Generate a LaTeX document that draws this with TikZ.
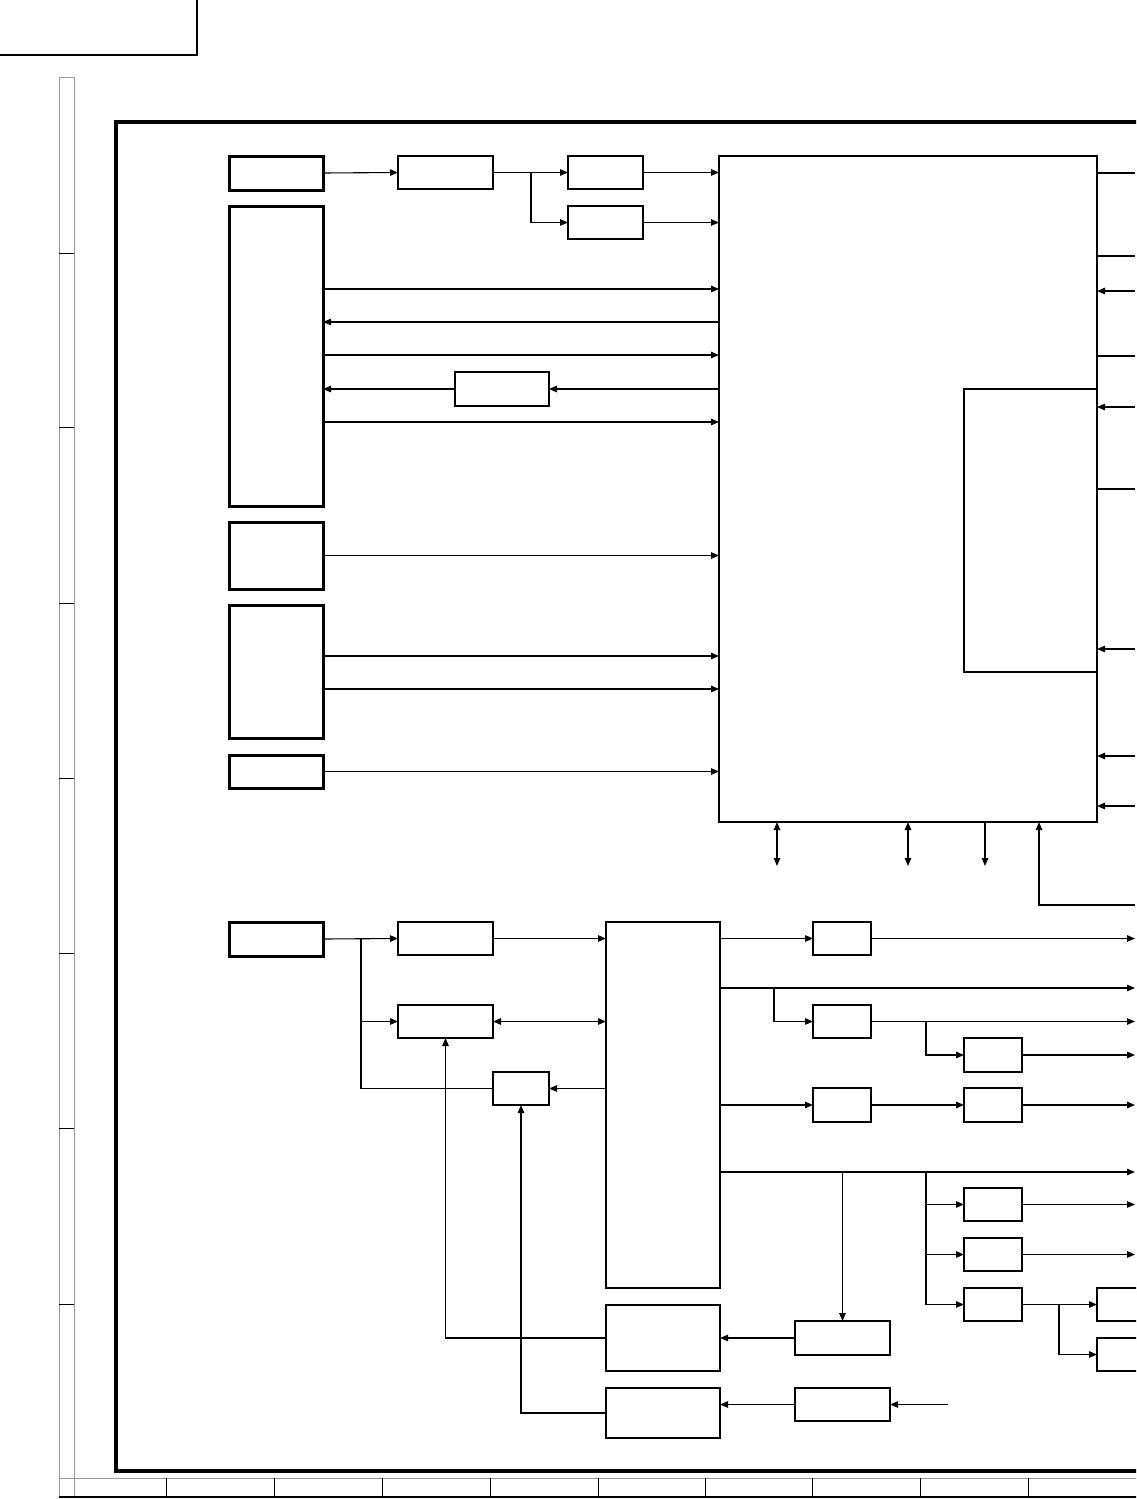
\documentclass[tikz,border=0pt]{standalone}
\usetikzlibrary{arrows.meta,calc,positioning}

\tikzset{
  blk/.style={draw,line width=1.1pt,inner sep=0pt,outer sep=0pt,anchor=north west},
  srcblk/.style={blk,line width=3pt},
  arr/.style={line width=1.1pt,-{Triangle[length=8pt,width=6.5pt]}},
  biarr/.style={line width=1.1pt,{Triangle[length=8pt,width=6.5pt]}-{Triangle[length=8pt,width=6.5pt]}},
  wire/.style={line width=1.1pt},
  strip/.style={draw=gray!80,line width=0.9pt}
}

\begin{document}
\begin{tikzpicture}[x=1pt,y=-1pt,>=Stealth]
  \useasboundingbox (0,0) rectangle (1136,1499);
  \clip (0,0) rectangle (1136,1499);

  % Rahmen, Randleisten
  \draw[line width=2.2pt] (-5,55) -- (197,55) -- (197,-5);
  \draw[strip] (59,77) rectangle (74,1497);
  \foreach \y in {253,427,603,778,953,1128,1304}
    \draw[line width=0.9pt] (59,\y) -- (74,\y);
  \draw[strip] (59,1478) -- (1140,1478);
  \draw[line width=1.2pt] (59,1497) -- (1140,1497);
  \foreach \x in {166.7,274.6,382,490,598,705,812,920,1028}
    \draw[line width=0.9pt] (\x,1478) -- (\x,1497);
  \draw[line width=3.5pt] (1140,122) -- (116,122) -- (116,1471) -- (1140,1471);

  % Koordinaten am Rand
  \coordinate (rim) at (1135,0);
  \coordinate (bus) at (0,866);
  \coordinate (tap) at (926,1172);
  \coordinate (src) at (948,0);

  % Obere Gruppe
  \node[srcblk,minimum width=94pt,minimum height=34pt] (s1) at (229,156) {};
  \node[srcblk,minimum width=94pt,minimum height=300pt] (s2) at (229,206) {};
  \node[srcblk,minimum width=94pt,minimum height=67pt] (s3) at (229,522) {};
  \node[srcblk,minimum width=94pt,minimum height=133pt] (s4) at (229,605) {};
  \node[srcblk,minimum width=94pt,minimum height=33pt] (s5) at (229,755) {};
  \node[blk,minimum width=95pt,minimum height=33pt] (a1) at (398,156) {};
  \node[blk,minimum width=75pt,minimum height=33pt] (b1) at (568,156) {};
  \node[blk,minimum width=75pt,minimum height=33pt] (b2) at (568,206) {};
  \node[blk,minimum width=94pt,minimum height=34pt] (c) at (455,372) {};
  \node[blk,minimum width=378pt,minimum height=666pt] (m) at (719,156) {};
  \node[blk,minimum width=133pt,minimum height=283pt] (mi) at (964,389) {};

  \draw[arr] (s1.east) -- (a1.west);
  \draw[arr] (a1.east) -- (b1.west);
  \draw[arr] (a1.east) ++(38,0) |- (b2.west);
  \draw[arr] (b1.east) -- (m.west |- b1.east);
  \draw[arr] (b2.east) -- (m.west |- b2.east);
  \foreach \y in {289,355,422}
    \draw[arr] (s2.east |- 0,\y) -- (m.west |- 0,\y);
  \draw[arr] (m.west |- 0,322) -- (s2.east |- 0,322);
  \draw[arr] (m.west |- c.east) -- (c.east);
  \draw[arr] (c.west) -- (s2.east |- c.west);
  \draw[arr] (s3.east) -- (m.west |- s3.east);
  \foreach \y in {656,689}
    \draw[arr] (s4.east |- 0,\y) -- (m.west |- 0,\y);
  \draw[arr] (s5.east) -- (m.west |- s5.east);

  % rechts am Hauptblock
  \foreach \y in {173,256,356,489}
    \draw[wire] (m.east |- 0,\y) -- (rim |- 0,\y);
  \foreach \y in {291,407,649,756,806}
    \draw[arr] (rim |- 0,\y) -- (m.east |- 0,\y);

  % unten am Hauptblock
  \draw[biarr] (m.south -| 777,0) -- (bus -| 777,0);
  \draw[biarr] (m.south -| 908,0) -- (bus -| 908,0);
  \draw[arr] (m.south -| 985,0) -- (bus -| 985,0);
  \draw[arr] (rim |- 0,905) -| (m.south -| 1039,0);

  % Untere Gruppe
  \node[srcblk,minimum width=94pt,minimum height=34pt] (s6) at (229,922) {};
  \node[blk,minimum width=95pt,minimum height=33pt] (a2) at (398,922) {};
  \node[blk,minimum width=95pt,minimum height=33pt] (a3) at (398,1005) {};
  \node[blk,minimum width=56pt,minimum height=33pt] (d) at (493,1072) {};
  \node[blk,minimum width=114pt,minimum height=366pt] (p) at (606,922) {};
  \node[blk,minimum width=58pt,minimum height=33pt] (e1) at (813,922) {};
  \node[blk,minimum width=58pt,minimum height=33pt] (e2) at (813,1005) {};
  \node[blk,minimum width=58pt,minimum height=34pt] (e3) at (813,1088) {};
  \node[blk,minimum width=58pt,minimum height=34pt] (f1) at (964,1038) {};
  \node[blk,minimum width=58pt,minimum height=34pt] (f2) at (964,1088) {};
  \node[blk,minimum width=58pt,minimum height=33pt] (h1) at (964,1188) {};
  \node[blk,minimum width=58pt,minimum height=33pt] (h2) at (964,1238) {};
  \node[blk,minimum width=58pt,minimum height=33pt] (h3) at (964,1288) {};
  \node[blk,minimum width=60pt,minimum height=33pt] (j1) at (1097,1288) {};
  \node[blk,minimum width=60pt,minimum height=33pt] (j2) at (1097,1338) {};
  \node[blk,minimum width=95pt,minimum height=34pt] (g1) at (795,1321) {};
  \node[blk,minimum width=95pt,minimum height=33pt] (g2) at (795,1388) {};
  \node[blk,minimum width=114pt,minimum height=66pt] (k1) at (606,1305) {};
  \node[blk,minimum width=114pt,minimum height=50pt] (k2) at (606,1388) {};

  \draw[arr] (s6.east) -- (a2.west);
  \draw[arr] (s6.east) ++(38,0) |- (a3.west);
  \draw[wire] (s6.east) ++(38,0) |- (d.west);
  \draw[arr] (a2.east) -- (p.west |- a2.east);
  \draw[biarr] (a3.east) -- (p.west |- a3.east);
  \draw[arr] (p.west |- d.east) -- (d.east);

  \draw[arr] (p.east |- e1.west) -- (e1.west);
  \draw[arr] (e1.east) -- (rim |- e1.east);
  \draw[arr] (p.east |- 0,988) -- (rim |- 0,988);
  \draw[arr] (p.east |- 0,988) ++(54,0) |- (e2.west);
  \draw[arr] (e2.east) -- (rim |- e2.east);
  \draw[arr] (e2.east) ++(55,0) |- (f1.west);
  \draw[arr] (f1.east) -- (rim |- f1.east);
  \draw[arr] (p.east |- e3.west) -- (e3.west);
  \draw[arr] (e3.east) -- (f2.west);
  \draw[arr] (f2.east) -- (rim |- f2.east);
  \draw[arr] (p.east |- tap) -- (rim |- tap);
  \draw[arr] (g1.north |- tap) -- (g1.north);
  \foreach \n in {h1,h2,h3}
    \draw[arr] (tap) |- (\n.west);
  \draw[arr] (h1.east) -- (rim |- h1.east);
  \draw[arr] (h2.east) -- (rim |- h2.east);
  \draw[arr] (h3.east) -- (j1.west);
  \draw[arr] (h3.east) ++(37,0) |- (j2.west);

  \draw[arr] (g1.west) -- (k1.east |- g1.west);
  \draw[arr] (k1.west) -| (a3.south);
  \draw[arr] (src |- g2.east) -- (g2.east);
  \draw[arr] (g2.west) -- (k2.east |- g2.west);
  \draw[arr] (k2.west) -| (d.south);
\end{tikzpicture}
\end{document}
